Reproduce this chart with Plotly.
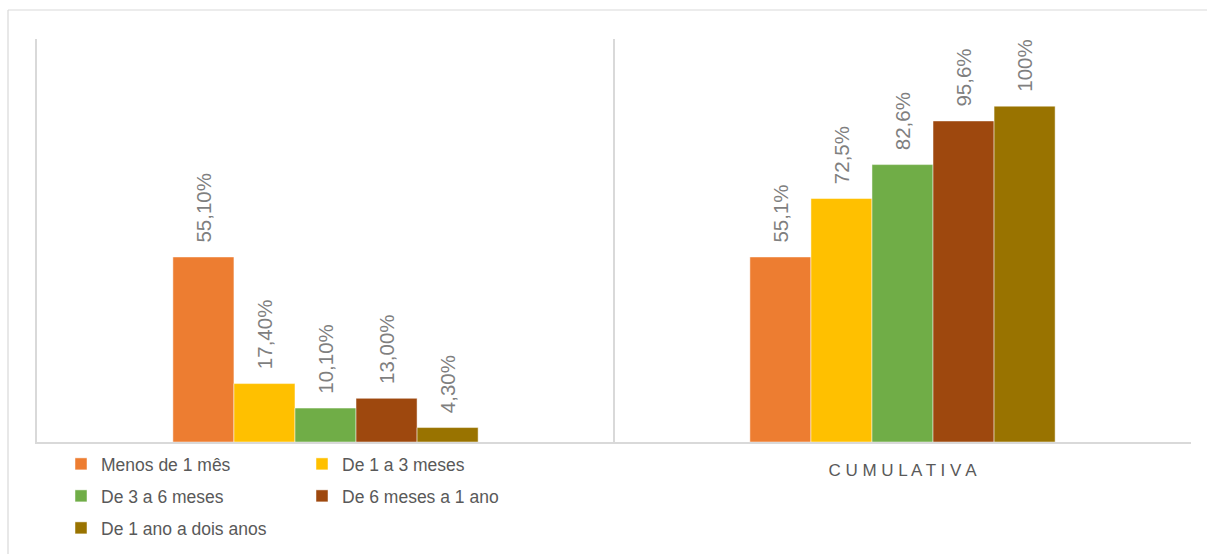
import plotly.graph_objects as go

categories = [" ", "CUMULATIVA"]
category_ticktext = [" ", "C U M U L A T I V A"]
series_names = ["Menos de 1 mês", "De 1 a 3 meses", "De 3 a 6 meses",
                "De 6 meses a 1 ano", "De 1 ano a dois anos"]
share_values = [55.1, 17.4, 10.1, 13.0, 4.3]
cumulative_values = [55.1, 72.5, 82.6, 95.6, 100.0]
share_labels = ["55,10%", "17,40%", "10,10%", "13,00%", "4,30%"]
cumulative_labels = ["55,1%", "72,5%", "82,6%", "95,6%", "100%"]
colors = ["#ED7D31", "#FFC000", "#70AD47", "#9E480E", "#997300"]
legend_ids = ["legend", "legend", "legend2", "legend2", "legend3"]

W, H = 1207, 554
ML, MR, MT, MB = 37, 16, 39, 112
PW = W - ML - MR
PH = H - MT - MB

pad = "\u00a0\u00a0"
fig = go.Figure()
for i, name in enumerate(series_names):
    fig.add_trace(go.Bar(
        name=name,
        x=categories,
        y=[share_values[i], cumulative_values[i]],
        text=[pad + share_labels[i], pad + cumulative_labels[i]],
        textposition="outside",
        textangle=-90,
        constraintext="none",
        cliponaxis=False,
        textfont=dict(color="#7F7F7F", size=20.5, family="Liberation Sans"),
        marker=dict(color=colors[i], line=dict(color="rgba(255,255,255,0.6)", width=0.8)),
        legend=legend_ids[i],
        hoverinfo="skip",
    ))

def px_x(p):
    return (p - ML) / PW

def px_y(p):
    return 1 - (p - MT) / PH

legend_common = dict(
    orientation="h", xanchor="left", yanchor="middle",
    entrywidth=196, entrywidthmode="pixels",
    font=dict(size=17.5, color="#595959", family="Liberation Sans"),
    bgcolor="rgba(0,0,0,0)", borderwidth=0,
    tracegroupgap=0, itemclick=False, itemdoubleclick=False,
)

fig.update_layout(
    width=W, height=H,
    margin=dict(l=ML, r=MR, t=MT, b=MB, autoexpand=False),
    paper_bgcolor="white", plot_bgcolor="white",
    barmode="group", bargap=0.471, bargroupgap=0,
    font=dict(family="Liberation Sans", color="#595959"),
    xaxis=dict(
        type="category", tickmode="array", tickvals=categories, ticktext=category_ticktext,
        tickson="boundaries", showgrid=True, gridcolor="#D9D9D9", gridwidth=1.5,
        showline=True, linecolor="#D9D9D9", linewidth=1.5,
        ticks="", tickfont=dict(size=17, color="#595959", family="Liberation Sans"),
        ticklabelstandoff=12, automargin=False,
        range=[-0.5, 1.5], fixedrange=True,
    ),
    yaxis=dict(
        range=[0, 120], showgrid=False, zeroline=False, showticklabels=False,
        ticks="", showline=True, linecolor="#D9D9D9", linewidth=1.5, fixedrange=True,
        automargin=False,
    ),
    legend=dict(x=px_x(61), y=px_y(464), **legend_common),
    legend2=dict(x=px_x(61), y=px_y(496), **legend_common),
    legend3=dict(x=px_x(61), y=px_y(528), **legend_common),
    shapes=[
        dict(type="line", xref="paper", yref="paper",
             x0=px_x(8), x1=px_x(1230), y0=px_y(10), y1=px_y(10),
             line=dict(color="#D9D9D9", width=1.2), layer="below"),
        dict(type="line", xref="paper", yref="paper",
             x0=px_x(8), x1=px_x(8), y0=px_y(10), y1=px_y(580),
             line=dict(color="#D9D9D9", width=1.2), layer="below"),
    ],
)

fig.write_html("out.html", config={"displayModeBar": False},
               post_script="document.body.style.margin='0';")
